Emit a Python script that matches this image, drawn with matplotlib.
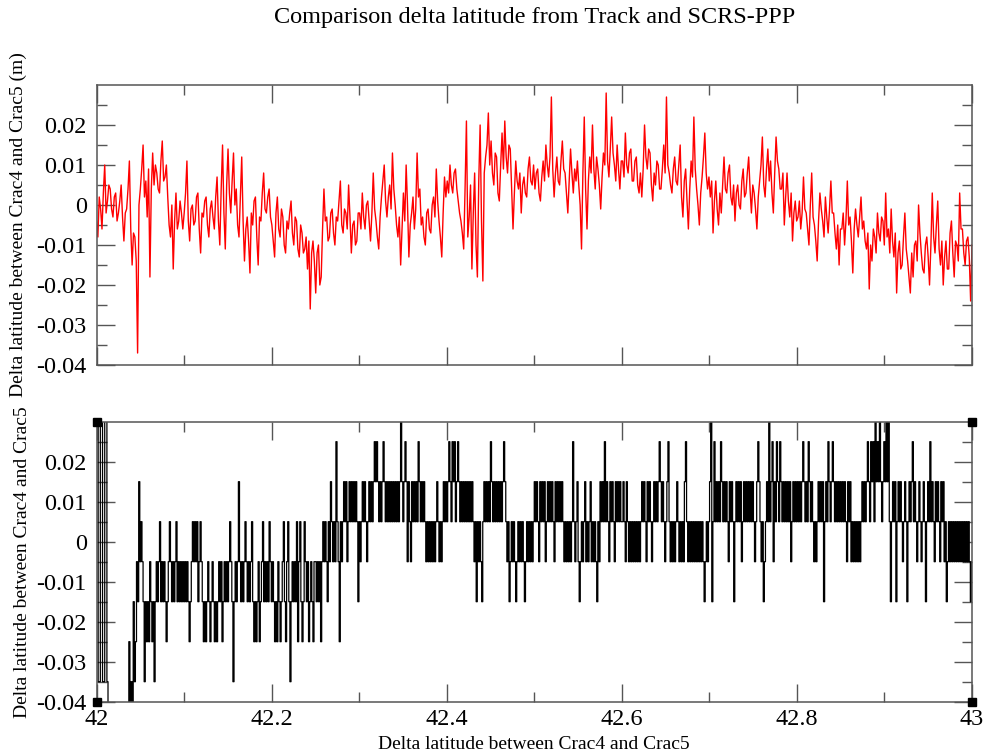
"""
Track 와 SCRS-PPP 위도 차이 비교 그림 (xmgrace 스타일 재현)
위: Track - SCRS-PPP 위도차 (빨강), 아래: Crac4 - Crac5 위도차 (검정, 양자화된 값)
"""
import numpy as np
import matplotlib
matplotlib.use('Agg')
from matplotlib import pyplot as plt

#=============================================================================================
# 데이터 (그림에서 읽은 값, 단위 mm). 0.05 구간마다 한 줄(또는 두 줄).
top_mm = [
    -4, -8, 2, -1, -6, 3, 10, -2, 1, 5, 4, -1, -3, 2, 3, -4, -2, 1, 5, -3, -9, -2, -1, 4, 11, -6, -15, -7, -8, -14, -37, 0,
    4, 9, 15, 2, 6, -3, 9, -18, 4, 13, 5, 10, 8, 4, 3, 11, 16, 6, 7, 10, 2, -5, -8, 0, -16, -4, 3, -6, -4, 1, -2, -6,
    -2, 3, 11, -4, -9, -1, 0, -5, -4, 2, 3, -6, -12, -2, -3, 1, 2, -5, -8, -1, 1, -3, -6, 2, 7, -4, -10, 4, 15, -2, -11, 5,
    14, 3, -2, 6, 13, 0, 4, -5, -8, 2, 12, -4, -14, -6, -3, -9, -17, -2, -5, 1, 2, -8, -15, -3, -4, 3, 8, -1, -2, 2, 4, -3,
    -5, -9, -13, -2, 2, -6, -8, -1, -3, -10, -12, -4, -6, -2, 1, -7, -10, -3, -4, -11, -13, -5, -7, -12, -11, -8, -16, -9, -26, -12, -9, -14,
    -22, -12, -10, -20, -18, -6, 4, -4, -3, -9, -8, -2, -1, -7, -10, -3, -4, 1, 6, -5, -7, -1, -2, -6, 5, -3, -12, -5, -4, -10, -9, -2,
    -2, -6, 3, -3, -6, 0, 1, -4, -9, -2, 8, -1, -4, -8, -11, -3, 2, 6, 10, 1, -3, 2, 5, -1, 13, 4, 0, -5, -8, -3, -15, -6,
    3, -4, 10, 0, -13, -5, -2, 2, -6, -1, 13, 2, 4, -5, -3, -8, -10, -2, -1, -6, -7, 0, 2, -3, 9, 1, -4, -8, -13, -2, 7, 2,
    6, 3, 10, 5, 3, 8, 9, 4, 1, -2, -4, -7, -11, 4, 21, -8, -3, 5, -16, -2, 8, -10, -18, 6, 20, -4, -19, 8, 12, 15, 23, 10,
    16, 8, 5, 13, 12, 3, 1, 10, 18, 9, 21, 12, 8, 15, 14, 4, -6, 3, 11, 6, 4, 8, -2, 5, 7, 3, 2, 9, 12, 6, 5, 10,
    4, 8, 9, 3, 1, 7, 11, 6, 15, 10, 7, 12, 27, 9, 2, 8, 12, 6, 5, 11, 16, 9, 8, 3, -2, 6, 14, 8, 3, 9, 6, 11,
    5, 0, -11, 8, 22, 4, -6, 6, 12, 8, 20, 9, 4, 12, 9, 5, -1, 7, 13, 10, 28, 11, 7, 14, 22, 13, 10, 6, 15, 9, 4, 11,
    11, 7, 18, 10, 8, 13, 14, 6, 6, 11, 12, 5, 3, 8, 2, 9, 20, 12, 9, 14, 13, 5, 1, 8, 5, 11, 10, 4, 4, 9, 15, 8,
    27, 10, 8, 5, 3, 9, 12, 6, 5, 10, 15, 2, -3, 6, 9, 1, -6, 4, 11, 7, 22, 9, 4, 0, -5, 3, 7, 12, 18, 8, 4, 7,
    2, 6, -7, 1, 6, -1, -5, 3, -2, 5, 12, 4, 3, 8, 10, 2, 0, 5, -4, 3, 5, 0, -1, 6, 9, 2, 3, 8, 12, 4, -2, 5,
    3, -1, -6, 2, 6, 10, 17, 5, 2, 9, 14, 6, 11, 3, -2, 8, 17, 11, 9, 4, 4, 8, -5, 2, 8, 1, -3, 3, -9, -2, 1, -4,
    -3, 1, -6, -2, 7, -1, -2, -6, -10, 0, 8, -3, -5, -9, -14, -4, 3, -1, -4, -8, 2, -3, -7, -1, 6, -2, -2, -7, -11, -5, -15, -6,
    -6, -2, -10, -4, 6, -5, -3, -9, -17, -6, -1, -5, -8, -3, 2, -6, -4, -9, -11, -7, -21, -10, -14, -6, -8, -12, -2, -7, -9, -3, -4, -10,
    3, -8, -6, -12, -1, -9, -13, -7, -22, -12, -9, -16, -15, -8, -2, -11, -14, -18, -22, -12, -18, -10, -9, -14, 0, -7, -12, -16, -17, -10, -8, -13,
    -20, -10, 3, -8, -12, -5, 1, -11, -15, -9, -20, -13, -9, -16, -16, -7, -4, -12, -18, -9, -10, -14, 3, -6, -6, -12, -15, -9, -8, -13, -24, -10,
]

bottom_mm = [
    40, 40, -35, -35, 40, 40, -35, -35, 40, 40, -35, -45, -50, -50, -50, -50, -50, -50, -50, -50,
    -50, -50, -50, -50, -50, -50, -50, -50, -50, -50, -25, -45, -35, -45, -15, -35, -25, -5, -15, 15,
    -5, 5, -5, -15, -35, -15, -25, -15, -25, -5, -15, -25, -15, -35, -15, -5, -15, -5, 5, -15,
    -5, -15, -5, -15, -25, -15, -5, 5, -5, -15, -5, -15, -5, 5, -15, -5, -15, -5, -15, -5,
    -15, -5, -15, -5, -15, -25, -15, -5, 5, -5, 5, -5, 5, -15, -5, 5, -5, -15, -25, -15,
    -25, -15, -5, -15, -25, -15, -5, -15, -25, -15, -25, -15, -5, -15, -5, -25, -15, -5, -15, -5,
    -15, -5, 5, -5, -15, -35, -15, -5, -15, -5, 15, -5, -15, -5, -15, -5, 5, -5, -15, -5,
    -15, -5, 5, -15, -25, -15, -25, -15, -5, -25, -15, -5, 5, -15, -5, -15, -5, -15, 5, -5,
    -15, -5, -15, -25, -15, -25, -5, -15, -25, -15, -5, 5, -15, -25, -5, 5, -15, -35, -15, -5,
    -15, -5, -15, 5, -25, -5, 5, -15, -25, -15, 5, -5, -15, -5, -25, -15, -5, -15, -25, -5,
    -5, -15, -5, -15, -5, -25, -5, 5, -5, 5, -5, -15, 5, -5, 15, 5, -5, 5, -5, 25,
    5, -5, -25, 5, -5, 5, 15, 5, 15, -5, 5, 15, 5, 15, 5, 15, 5, 15, 5, -15,
    5, -5, 5, 15, 5, 15, 5, -5, 5, 15, 5, 15, 5, 15, 25, 15, 25, 15, 5, 15,
    5, 15, 25, 15, 5, 15, 5, 15, 5, 15, 5, 15, 5, 15, 5, 15, 5, 15, 35, 15,
    5, 15, 25, 15, -5, 15, 5, -5, 15, 5, 15, 5, 15, 5, 25, 15, 5, 15, 5, 15,
    5, -5, 5, -5, 5, -5, 5, -5, 5, -5, 5, 15, 5, -5, 5, -5, 5, 15, 5, 15,
    5, 15, 25, 15, 5, 25, 15, 25, 5, 15, 25, 15, 5, 15, 5, 15, 5, 15, 5, 15,
    5, 15, 5, 15, 5, -5, 5, -15, 5, -5, 5, -5, -15, 5, 15, 5, 15, 5, 15, 5,
    25, 15, 5, 15, 5, 15, 5, 15, 5, 15, 5, 15, 25, 15, 5, -5, 5, -15, -5, 5,
    -5, 5, -5, -15, -5, 5, -5, 5, -5, 5, -5, -15, -5, 5, -5, 5, -5, 5, -5, 5,
    15, 5, 15, 5, -5, 15, 5, 15, 5, 15, -5, 5, 15, 5, 15, 5, 15, 5, -5, 15,
    5, 15, 5, 15, 5, 15, 5, -5, 5, -5, 5, -5, 5, -5, 5, 25, 5, -5, 5, 15,
    -5, -15, -5, 5, -5, 5, 15, -5, 5, -5, 5, 15, -5, 5, -5, 5, -5, -15, 5, -5,
    15, 5, 15, 5, 25, 5, 15, 5, -5, 15, 5, 15, 5, -5, 15, 5, 15, 5, 15, 5,
    5, 15, 5, -5, 15, 5, -5, 5, -5, 5, -5, 5, -5, 5, -5, 5, -5, 5, 15, 5,
    15, 5, -5, 15, 5, 15, 5, -5, 5, 15, 5, 15, 5, 15, 25, 15, 5, 15, 5, -5,
    5, 15, 25, 5, -5, 5, -5, 5, -5, 5, 15, 5, -5, 5, -5, 5, -5, 15, 25, 5,
    -5, 5, -5, 5, -5, 5, -5, 5, -5, 5, -5, 5, -5, 5, -5, -15, -5, 5, -5, 5,
    15, 35, -15, 5, 25, 5, 15, 5, 15, 5, 25, 15, 5, 15, 5, 15, 5, -5, 15, 5,
    15, 5, -15, 5, 15, 5, 15, 5, 15, -5, 5, 15, 5, 15, 5, 15, 5, 15, 5, 15,
    5, -5, 5, 15, 25, 15, 5, -5, 5, -15, -5, 5, 15, 5, 35, 5, 15, 25, -5, 15,
    5, 25, 15, 5, 25, 15, 5, 15, 5, 15, 5, 15, 5, 15, -5, 5, 15, 5, 15, 5,
    15, 5, 15, 5, 15, 25, 15, 5, 15, 5, 25, 15, 5, 15, 5, -5, 5, -5, 5, 15,
    5, 15, 5, 15, -15, 5, 15, 5, 25, 15, 5, 15, 25, 15, 5, 15, 5, 15, 5, 15,
    5, 15, 5, 15, 5, -5, 15, 5, 15, -5, 5, -5, 5, -5, 5, -5, 5, -5, 5, 15,
    5, 15, 5, 15, 25, 15, 5, 25, 15, 25, 5, 35, 15, 25, 15, 35, 15, 5, 15, 25,
    15, 35, 15, 35, 5, -15, 5, 15, 5, 15, -15, 5, 15, 5, 15, 5, -5, 5, 15, 5,
    -15, 5, 15, 5, 15, 25, 5, 15, 5, -5, 5, 15, 5, -5, 5, 15, 5, -15, 5, 15,
    5, 25, 5, 15, 5, -5, 15, 5, 15, 5, -5, 15, 5, 15, -5, 5, -15, -5, 5, -5,
    5, -5, 5, -5, 5, -5, 5, -5, 5, -5, 5, -5, 5, -5, 5, -5, 5, -5, -15, -5,
]

# 아래 그래프 모서리의 사각 심볼
corner_x = [42.0, 42.0, 43.0, 43.0]
corner_y = [0.03, -0.04, 0.03, -0.04]

x_range = [42.0, 43.0]
y_range = [-0.04, 0.03]
xtick_vals = [42.0, 42.2, 42.4, 42.6, 42.8, 43.0]
xtick_labels = ['42', '42.2', '42.4', '42.6', '42.8', '43']
xminor_vals = [42.1, 42.3, 42.5, 42.7, 42.9]
ytick_vals = [-0.04, -0.03, -0.02, -0.01, 0.0, 0.01, 0.02]
ytick_labels = ['-0.04', '-0.03', '-0.02', '-0.01', '0', '0.01', '0.02']
yminor_vals = [-0.035, -0.025, -0.015, -0.005, 0.005, 0.015, 0.025]

title = 'Comparison delta latitude from Track and SCRS-PPP'
label = 'Delta latitude between Crac4 and Crac5'

#=============================================================================================
plt.rcParams['font.family'] = ['Liberation Serif', 'DejaVu Serif']
plt.rcParams['axes.unicode_minus'] = False

top = np.array(top_mm) / 1000.0
bottom = np.array(bottom_mm) / 1000.0
x_top = np.linspace(x_range[0], x_range[1], len(top))
x_bot = np.linspace(x_range[0], x_range[1], len(bottom))

fig = plt.figure(figsize=(9.86, 7.55), dpi=100)
ax1 = fig.add_axes([96.5/986, 1 - 365/755, 875.5/986, 280/755])
ax2 = fig.add_axes([96.5/986, 1 - 701.7/755, 875.5/986, 280/755])

frame = '#555555'


def style(ax, show_x):
    ax.set_xlim(x_range)
    ax.set_ylim(y_range)
    ax.set_xticks(xtick_vals)
    ax.set_xticks(xminor_vals, minor=True)
    ax.set_yticks(ytick_vals)
    ax.set_yticks(yminor_vals, minor=True)
    ax.set_yticklabels(ytick_labels)
    if show_x:
        ax.set_xticklabels(xtick_labels)
    else:
        ax.set_xticklabels([])
    ax.tick_params(which='both', direction='in', top=True, right=True,
                   color=frame, width=1.0, labelsize=17.5)
    ax.tick_params(which='major', length=13)
    ax.tick_params(which='minor', length=7)
    ax.tick_params(axis='y', pad=7)
    ax.tick_params(axis='x', pad=5)
    for s in ax.spines.values():
        s.set_color(frame)
        s.set_linewidth(1.1)


# 위 그래프
ax1.plot(x_top, top, color='red', lw=1.0)
style(ax1, False)
ax1.set_ylabel(label + ' (m)', fontsize=14)
ax1.yaxis.set_label_coords(-0.079, 0.5)

# 아래 그래프 : 점이 촘촘해서 원본은 수직선으로 보이므로 steps 로 그림
ax2.plot(x_bot, bottom, color='black', lw=0.9, drawstyle='steps-mid')
ax2.plot(corner_x, corner_y, ls='none', marker='s', ms=5.5, color='black',
         clip_on=False, zorder=5)
style(ax2, True)
ax2.set_ylabel(label, fontsize=14)
ax2.yaxis.set_label_coords(-0.075, 0.5)
ax2.set_xlabel(label, fontsize=14)
ax2.xaxis.set_label_coords(0.5, -0.124)

fig.text(0.542, 1 - 18/755, title, ha='center', va='center', fontsize=17.5)

plt.savefig('out.png', dpi=100)
